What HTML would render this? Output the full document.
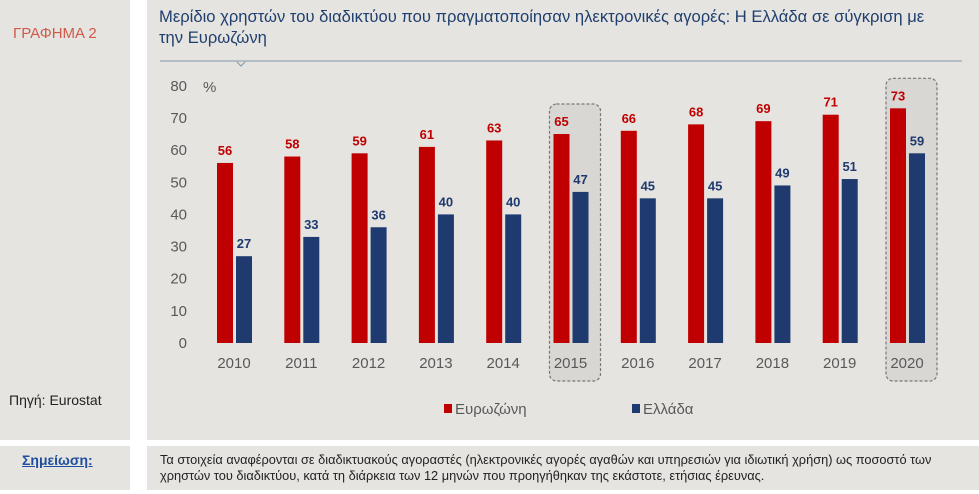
<!DOCTYPE html>
<html><head><meta charset="utf-8"><style>
body{margin:0;width:979px;height:494px;background:#fff;font-family:"Liberation Sans",sans-serif;overflow:hidden;position:relative}
.p{position:absolute;background:#e5e4e0}
</style></head><body>
<div class="p" style="left:0;top:0;width:130px;height:440px"></div>
<div style="position:absolute;left:13px;top:25px;color:#d05a4a;font-size:15px">ΓΡΑΦΗΜΑ 2</div>
<div style="position:absolute;left:9px;top:392px;color:#222;font-size:14px">Πηγή: Eurostat</div>
<div class="p" style="left:147px;top:0;width:832px;height:440px"></div>
<div style="position:absolute;left:159px;top:6px;width:775px;color:#1f3f6e;font-size:16.6px;line-height:21px">Μερίδιο χρηστών του διαδικτύου που πραγματοποίησαν ηλεκτρονικές αγορές: Η Ελλάδα σε σύγκριση με την Ευρωζώνη</div>
<div class="p" style="left:0;top:446px;width:130px;height:44px"></div>
<div style="position:absolute;left:22px;top:452px;color:#1f4e9e;font-size:14px;font-weight:bold;text-decoration:underline">Σημείωση:</div>
<div class="p" style="left:147px;top:446px;width:832px;height:44px"></div>
<div style="position:absolute;left:160px;top:452px;width:805px;color:#222;font-size:12.8px;line-height:16px">Τα στοιχεία αναφέρονται σε διαδικτυακούς αγοραστές (ηλεκτρονικές αγορές αγαθών και υπηρεσιών για ιδιωτική χρήση) ως ποσοστό των χρηστών του διαδικτύου, κατά τη διάρκεια των 12 μηνών που προηγήθηκαν της εκάστοτε, ετήσιας έρευνας.</div>
<svg id="c" width="979" height="494" style="position:absolute;left:0;top:0" font-family="Liberation Sans, sans-serif"></svg>
<script>
const years=["2010","2011","2012","2013","2014","2015","2016","2017","2018","2019","2020"];
const euro=[56,58,59,61,63,65,66,68,69,71,73];
const greece=[27,33,36,40,40,47,45,45,49,51,59];
const ticks=[0,10,20,30,40,50,60,70,80];
const highlighted=["2015","2020"];
const svg=document.getElementById('c');const NS='http://www.w3.org/2000/svg';
function y(v){return 343-v*3.215}
function x(i){return 234+i*67.3}
function mk(t,a,txt){const e=document.createElementNS(NS,t);for(const k in a)e.setAttribute(k,a[k]);if(txt!=null)e.textContent=txt;svg.appendChild(e);return e}
const ln=mk('line',{x1:160,y1:61,x2:962,y2:61,stroke:'#8496a8','stroke-width':1});


mk('path',{d:'M237 62 L241 66 L245 62',fill:'none',stroke:'#8496a8'});
years.forEach((yr,i)=>{if(highlighted.includes(yr)){const top=Math.min(y(euro[i]),y(greece[i]))-30;const r=mk('rect',{x:x(i)-21,y:top,width:51,height:381-top,rx:7,fill:'#d8d7d3',stroke:'#777','stroke-dasharray':'3,2','stroke-width':1.2});

}});
ticks.forEach(t=>{const e=mk('text',{x:187,y:y(t)+5,'text-anchor':'end','font-size':15,fill:'#595959'},t);

});
const pc=mk('text',{x:203,y:y(80)+6,'font-size':15,fill:'#595959'},'%');


years.forEach((yr,i)=>{const cx=x(i);
const r=mk('rect',{x:cx-17,y:y(euro[i]),width:16,height:343-y(euro[i]),fill:'#c00000'});


const b=mk('rect',{x:cx+2,y:y(greece[i]),width:16,height:343-y(greece[i]),fill:'#1f3a6e'});


const l1=mk('text',{x:cx-9,y:y(euro[i])-8,'text-anchor':'middle','font-size':13,'font-weight':'bold',fill:'#c00000'},euro[i]);


const l2=mk('text',{x:cx+10,y:y(greece[i])-8,'text-anchor':'middle','font-size':13,'font-weight':'bold',fill:'#1f3a6e'},greece[i]);


const t=mk('text',{x:cx,y:368,'text-anchor':'middle','font-size':15,fill:'#595959'},yr);

});
const lg1=mk('rect',{x:444,y:404,width:8,height:9,fill:'#c00000'});


const lt1=mk('text',{x:455,y:414,'font-size':15,fill:'#595959'},'Ευρωζώνη');


const lg2=mk('rect',{x:632,y:404,width:8,height:9,fill:'#1f3a6e'});


const lt2=mk('text',{x:643,y:414,'font-size':15,fill:'#595959'},'Ελλάδα');


</script>
</body></html>
